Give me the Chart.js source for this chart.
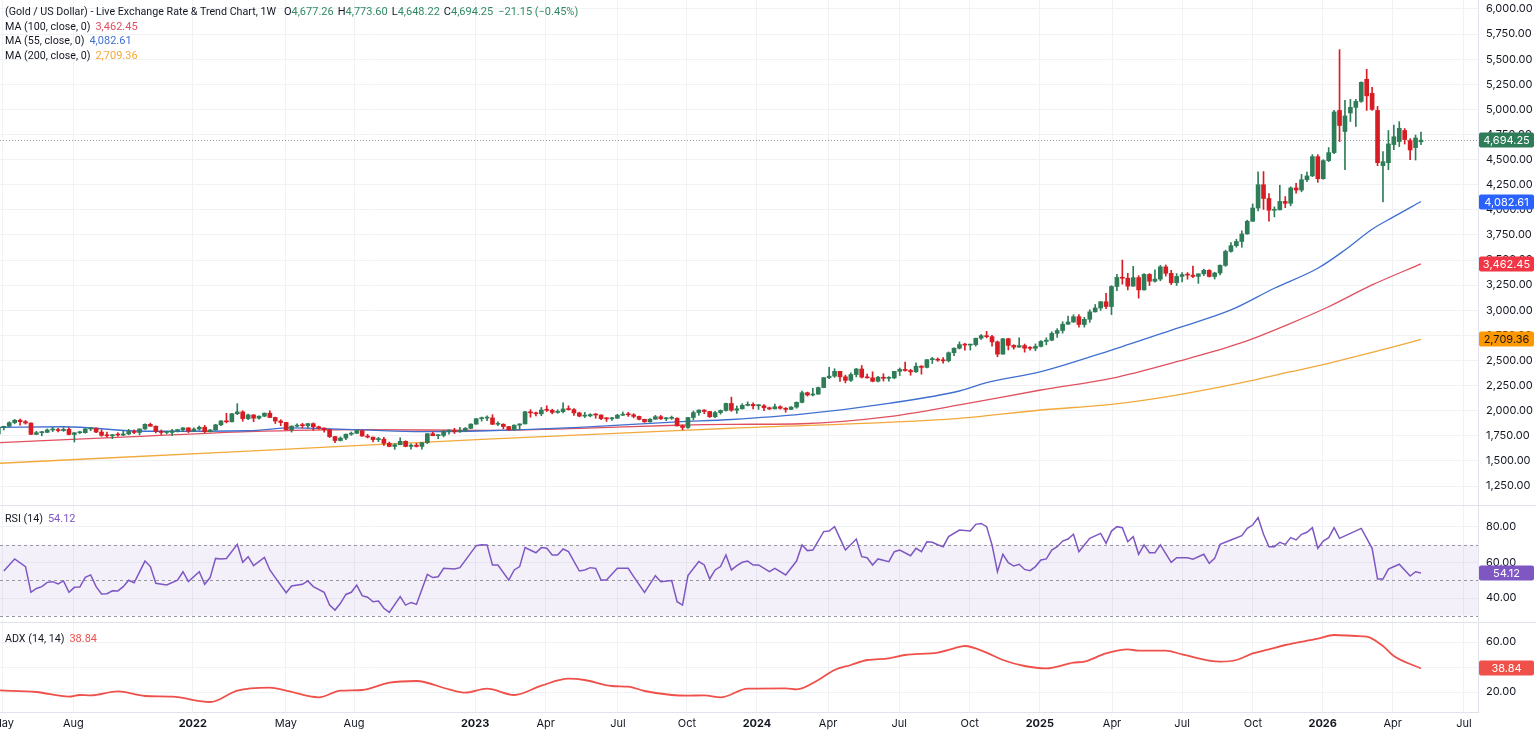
<!DOCTYPE html>
<html>
<head>
<meta charset="utf-8">
<script src="https://cdn.jsdelivr.net/npm/chart.js@4.4.1/dist/chart.umd.min.js"></script>
<style>
  body { margin: 0; background: #fff; font-family: Inter, "Noto Sans", sans-serif; }
  #wrap { position: relative; width: 1536px; height: 735px; overflow: hidden; background: #fff; }
  canvas { position: absolute; left: 0; }
  .sep { position: absolute; left: 0; width: 1536px; height: 1px; background: #e0e3eb; }
  .leg { position: absolute; left: 5px; font-family: Roboto, "Noto Sans", sans-serif; font-size: 10.7px; line-height: 14.5px; color: #131722; white-space: pre; }
  .leg .v { margin-left: 5px; font-size: 11px; }
  .leg .o { margin-left: 4px; font-size: 11px; }
</style>
</head>
<body>
<div id="wrap">
  <canvas id="price" width="1536" height="505" style="top:0"></canvas>
  <div class="sep" style="top:505px"></div>
  <canvas id="rsi" width="1536" height="116" style="top:506px"></canvas>
  <div class="sep" style="top:622px"></div>
  <canvas id="adx" width="1536" height="112" style="top:623px"></canvas>
  <div class="leg" id="legPrice" style="top:5px"></div>
  <div class="leg" id="legRsi" style="top:512px"></div>
  <div class="leg" id="legAdx" style="top:632px"></div>
</div>
<script>
// ===== DATA (weekly candles, week 0 = 3 May 2021) =====
const opens = [
  1768,1831,1844,1881,1905,1891,1877,1764,1781,1784,
  1808,1812,1802,1814,1763,1780,1781,1818,1827,1787,
  1754,1750,1761,1757,1768,1793,1783,1818,1864,1845,
  1792,1783,1783,1798,1811,1829,1797,1817,1835,1791,
  1808,1859,1898,1889,1970,1988,1921,1958,1925,1945,
  1975,1932,1897,1883,1811,1846,1853,1851,1871,1840,
  1827,1811,1742,1703,1727,1766,1775,1802,1747,1737,
  1712,1716,1675,1644,1661,1695,1644,1657,1644,1681,
  1771,1751,1754,1797,1797,1793,1798,1824,1866,1920,
  1926,1928,1865,1865,1842,1811,1856,1868,1989,1978,
  1969,2007,2004,1983,1990,2017,2011,1978,1946,1948,
  1961,1957,1921,1919,1925,1955,1962,1959,1943,1914,
  1889,1915,1940,1919,1924,1925,1849,1833,1932,1981,
  2006,1992,1940,1981,2002,2072,2005,2019,2053,2063,
  2049,2049,2029,2018,2039,2024,2013,2036,2083,2179,
  2156,2165,2230,2329,2344,2392,2337,2302,2360,2415,
  2334,2327,2293,2333,2322,2326,2392,2411,2400,2387,
  2443,2431,2508,2512,2503,2497,2577,2622,2658,2653,
  2657,2721,2747,2737,2685,2563,2716,2650,2633,2648,
  2622,2621,2640,2690,2702,2770,2798,2861,2883,2936,
  2858,2910,2984,3023,3085,3037,3237,3327,3319,3240,
  3325,3203,3357,3289,3310,3432,3368,3274,3337,3355,
  3350,3337,3363,3398,3336,3371,3447,3586,3643,3685,
  3760,3886,4018,4250,4113,3996,4000,4084,4065,4218,
  4197,4300,4338,4530,4310,4490,4570,4990,4780,4965,
  5020,5080,5300,5160,4990,4440,4470,4650,4680,4790,
  4690,4620,4677.26
];
const highs = [
  1845,1846,1890,1913,1916,1903,1878,1795,1795,1818,
  1834,1825,1832,1832,1783,1795,1823,1834,1827,1809,
  1788,1764,1781,1800,1814,1810,1818,1868,1877,1848,
  1808,1793,1815,1815,1831,1830,1830,1848,1854,1813,
  1865,1902,1974,1974,2070,1999,1966,1960,1948,1978,
  1998,1936,1910,1885,1849,1870,1874,1875,1879,1847,
  1830,1814,1745,1739,1767,1788,1808,1802,1765,1738,
  1735,1735,1688,1672,1730,1700,1670,1675,1683,1772,
  1787,1760,1805,1810,1825,1833,1833,1870,1922,1937,
  1949,1960,1890,1870,1845,1859,1870,1993,2010,1985,
  2032,2049,2015,2009,2079,2048,2022,1985,1983,1970,
  1972,1959,1930,1935,1964,1987,1983,1970,1947,1915,
  1922,1953,1953,1933,1947,1928,1857,1933,1997,2009,
  2010,1993,1993,2008,2075,2135,2047,2070,2088,2078,
  2062,2062,2036,2065,2049,2031,2041,2088,2195,2185,
  2223,2236,2330,2431,2418,2392,2354,2378,2422,2450,
  2364,2387,2342,2368,2339,2392,2425,2484,2412,2477,
  2448,2509,2531,2525,2529,2585,2625,2685,2670,2662,
  2723,2759,2790,2750,2694,2721,2721,2657,2726,2664,
  2639,2665,2697,2726,2786,2817,2886,2942,2955,2956,
  2930,3005,3057,3087,3168,3245,3358,3500,3368,3438,
  3345,3366,3365,3403,3447,3451,3398,3365,3375,3375,
  3439,3363,3409,3404,3379,3453,3599,3674,3707,3791,
  3897,4059,4379,4381,4161,4030,4245,4132,4230,4264,
  4353,4375,4550,4550,4500,4620,4990,5595,5090,5100,
  5100,5275,5400,5220,5030,4580,4790,4845,4878,4810,
  4710,4745,4773.60
];
const lows = [
  1766,1808,1843,1870,1855,1866,1761,1761,1750,1782,
  1792,1789,1794,1759,1688,1772,1776,1801,1782,1745,
  1737,1721,1746,1750,1760,1770,1759,1814,1845,1778,
  1762,1770,1753,1787,1790,1782,1791,1805,1780,1788,
  1807,1850,1878,1889,1960,1895,1910,1890,1915,1941,
  1930,1872,1851,1808,1787,1838,1828,1825,1805,1816,
  1785,1732,1681,1698,1711,1754,1771,1745,1728,1688,
  1691,1654,1640,1615,1660,1640,1618,1638,1617,1672,
  1750,1721,1739,1765,1773,1784,1795,1824,1865,1896,
  1900,1861,1852,1819,1805,1804,1809,1867,1935,1949,
  1950,1992,1969,1974,1978,2005,1952,1939,1932,1939,
  1925,1910,1893,1902,1922,1951,1943,1929,1908,1884,
  1885,1914,1913,1901,1913,1846,1810,1823,1909,1954,
  1970,1932,1931,1965,1995,1993,1973,2016,2047,2017,
  2013,2001,2010,2017,2015,1984,2010,2024,2078,2146,
  2146,2163,2228,2319,2331,2291,2277,2291,2336,2325,
  2323,2287,2287,2295,2293,2319,2350,2393,2353,2381,
  2364,2426,2470,2491,2472,2485,2547,2614,2603,2604,
  2643,2709,2725,2643,2537,2563,2605,2613,2630,2583,
  2602,2597,2636,2656,2696,2730,2772,2860,2880,2832,
  2832,2880,2982,2999,3015,2957,3194,3260,3202,3239,
  3121,3200,3246,3280,3294,3340,3255,3247,3282,3309,
  3325,3268,3345,3331,3311,3351,3437,3578,3628,3627,
  3758,3885,3990,4004,3886,3930,3998,4022,4040,4167,
  4180,4280,4330,4274,4305,4480,4560,4680,4400,4880,
  4830,5070,4990,4990,4440,4080,4400,4600,4630,4655,
  4500,4496,4648.22
];
const closes = [
  1831,1844,1881,1905,1891,1877,1764,1781,1784,1808,
  1812,1802,1814,1763,1780,1781,1818,1827,1787,1754,
  1750,1761,1757,1768,1793,1783,1818,1864,1845,1792,
  1783,1783,1798,1811,1829,1797,1817,1835,1791,1808,
  1859,1898,1889,1970,1988,1921,1958,1925,1945,1975,
  1932,1897,1883,1811,1846,1853,1851,1871,1840,1827,
  1811,1742,1703,1727,1766,1775,1802,1747,1737,1712,
  1716,1675,1644,1661,1695,1644,1657,1644,1681,1771,
  1751,1754,1797,1797,1793,1798,1824,1866,1920,1926,
  1928,1865,1865,1842,1811,1856,1868,1989,1978,1969,
  2007,2004,1983,1990,2017,2011,1978,1946,1948,1961,
  1957,1921,1919,1925,1955,1962,1959,1943,1914,1889,
  1915,1940,1919,1924,1925,1849,1833,1932,1981,2006,
  1992,1940,1981,2002,2072,2005,2019,2053,2063,2049,
  2049,2029,2018,2039,2024,2013,2036,2083,2179,2156,
  2165,2230,2329,2344,2392,2337,2302,2360,2415,2334,
  2327,2293,2333,2322,2326,2392,2411,2400,2387,2443,
  2431,2508,2512,2503,2497,2577,2622,2658,2653,2657,
  2721,2747,2737,2685,2563,2716,2650,2633,2648,2622,
  2621,2640,2690,2702,2770,2798,2861,2883,2936,2858,
  2910,2984,3023,3085,3037,3237,3327,3319,3240,3325,
  3203,3357,3289,3310,3432,3368,3274,3337,3355,3350,
  3337,3363,3398,3336,3371,3447,3586,3643,3685,3760,
  3886,4018,4250,4113,3996,4000,4084,4065,4218,4197,
  4300,4338,4530,4310,4490,4570,4975,4840,4935,5020,
  5080,5270,5135,5000,4470,4480,4656,4728,4812,4700,
  4596,4715.40,4694.25
];

// moving averages at sample weeks
const ma55Weeks  = [0,12,27,46,54,67,78,90,107,125,135,148,164,177,182,192,205,217,227,235,243,248,253,257,262];
const ma55Values = [1834,1840,1795,1800,1828,1808,1791,1800,1834,1888,1912,1965,2073,2196,2279,2388,2604,2820,3003,3219,3418,3600,3806,3932,4082.61];
const ma100Weeks  = [0,25,46,67,90,107,125,135,148,164,177,192,205,217,229,238,245,253,262];
const ma100Values = [1681,1741,1791,1812,1803,1824,1855,1864,1870,1940,2057,2206,2322,2488,2677,2870,3035,3252,3462.45];
const ma200Weeks  = [0,46,90,135,177,192,205,217,229,238,245,253,262];
const ma200Values = [1476,1598,1716,1825,1924,2007,2063,2156,2279,2388,2472,2581,2709.36];

// RSI (14) turning points
const rsiWeeks = [1,3,5,6,7,8,9,10,11,12,13,14,15,16,17,18,19,20,21,22,23,24,25,27,28,29,31,33,34,35,37,38,39,40,41,42,44,45,46,47,49,50,51,53,54,56,57,58,60,61,62,63,64,65,66,67,68,69,70,71,72,74,75,76,77,79,80,81,82,84,85,88,89,90,91,92,94,95,96,97,99,100,101,102,103,104,105,107,108,109,110,111,112,114,116,117,119,121,122,124,125,126,127,129,130,131,132,133,134,135,136,137,138,139,140,142,143,145,147,148,149,150,152,153,154,155,156,158,159,160,161,162,164,165,166,168,169,170,171,172,173,174,175,177,179,180,181,182,183,184,185,186,187,188,189,190,191,192,193,194,195,196,197,198,199,200,201,203,204,205,206,207,208,209,210,211,212,213,214,216,217,219,220,222,223,224,225,227,229,230,231,232,233,234,235,236,237,238,239,240,241,242,243,244,245,246,247,249,251,253,254,255,256,258,260,261,262];
const rsiValues = [55.2,62,57.7,43.2,45.4,46.4,48.8,49.2,47.9,49.6,43.2,46,46.2,51.6,53,46.4,42.3,42.4,44.1,44,46.4,50,48.6,60.8,57.7,48.3,47.3,50.1,54.8,49.2,54.8,47.7,51.5,62.3,62,62.3,70.2,60.1,63.3,58.2,62.9,55.8,51.5,43,46.8,47.7,49.6,46.4,43.2,36,33.2,37,42,43.2,47.3,41.3,40.4,37.9,38.3,34.2,31.9,40.8,36,37.5,36.4,53.3,51.5,52,56.7,56.3,57.1,69.5,70,69.9,58.6,58.6,50.1,55.8,57.7,68.4,65.5,68.4,68,64.2,64.2,67.6,66.1,55.2,55.8,57.1,56.7,50.1,50.1,56.7,56.7,52,43.2,52.6,49.2,49.8,37.9,36,52.6,60.5,58.6,50.7,55.8,57.7,64.2,55.8,58.2,60.1,60.8,58.6,58.6,54.8,56.7,53,60.8,69.9,66.7,67,77.4,77.7,80.2,73.6,67,73.2,63.3,62.7,58.6,62,60.5,66.1,67,63.8,68,66.1,71.7,71.4,70,68.9,74.6,78.3,77.7,81.5,82,80.2,69.9,54.8,64.6,59.9,58,59,56.1,55.4,57.7,61.4,62,67,68.9,72.1,73.2,75.9,66.1,69.9,73.6,76.4,70.8,77.7,80.2,79.6,71.7,74.6,64.6,69.9,65.5,65.5,69.9,60.1,62.7,62.7,61.8,64.6,59.5,62.3,70.2,72.7,75.1,79.2,81.1,85.3,75.9,68.9,68.9,71.4,70.2,74,72.7,75.9,77,79.6,68,72.1,74,79.6,73.6,76.4,79.2,68,50.7,50.7,56.3,59,52.4,54.8,54.12];

// ADX (14, 14) sample points
const adxWeeks  = [0,7,13,15,17,22,27,32,39,40,44,50,53,59,63,67,72,77,83,86,90,95,100,105,108,113,116,119,124,127,130,133,138,145,147,151,154,157,160,164,167,173,176,178,182,185,189,193,198,200,204,208,210,215,218,225,228,231,234,237,243,246,250,252,255,257,262];
const adxValues = [21.3,20,16.3,17.6,17.3,20.5,16.8,16.3,12,12.8,21.1,23.5,21.1,15.7,21.1,21.6,27.5,28.8,22.1,19.5,22.7,17.6,25.1,30.7,29.6,24.8,24.3,20.8,17.6,17.1,17.3,15.7,22.7,22.9,22.1,29.6,37.6,41.6,45.6,46.9,49.6,51.5,54.9,56.8,51.5,45.6,40.8,38.9,43.5,44.3,50.9,54.1,53.1,53.1,50.1,44.3,45.6,50.9,54.1,57.6,62.7,65.6,64.8,64.3,56.8,48.8,38.84];

// time axis
const tickWeeks = [0.85,13.8,35.8,52.96,65.5,87.8,100.8,114.1,126.8,139.7,152.8,165.9,178.9,191.8,205.1,218,231.05,243.9,256.8,269.9];
const tickText  = ['May','Aug','2022','May','Aug','2023','Apr','Jul','Oct','2024','Apr','Jul','Oct','2025','Apr','Jul','Oct','2026','Apr','Jul'];
const priceTicks = [1250,1500,1750,2000,2250,2500,2750,3000,3250,3500,3750,4000,4250,4500,4750,5000,5250,5500,5750,6000];
const rsiTicks = [40, 60, 80];
const adxTicks = [20, 40, 60];

// ===== STYLE =====
const GREEN = '#2e7d58', RED = '#d81c24';
const C_MA55 = '#3f6fd0', C_MA100 = '#e0505f', C_MA200 = '#f2a93b';
const C_RSI = '#7e57c2', C_ADX = '#f0504a';
const GRID = '#f0f2f6', TEXT = '#131722';
const FONT = 'Inter, "Noto Sans", sans-serif';

const weeks = closes.map((_, i) => i);
const last = closes.length - 1;
const fmt2 = v => Number(v).toLocaleString('en-US', { minimumFractionDigits: 2, maximumFractionDigits: 2 });
const candleColor = i => closes[i] >= opens[i] ? GREEN : RED;
const pts = (xs, ys) => xs.map((x, k) => ({ x: x, y: ys[k] }));

function xAxis(showLabels) {
    return {
        type: 'linear', min: 0.3, max: 272.5, offset: false,
        afterBuildTicks: ax => { ax.ticks = tickWeeks.map(v => ({ value: v })); },
        afterFit: ax => {
            ax.height = showLabels ? 23 : 0;
            ax.paddingLeft = 0; ax.paddingRight = 0;
        },
        grid: { color: GRID, drawTicks: false, offset: false },
        border: { display: showLabels, color: '#e0e3eb' },
        ticks: {
            display: showLabels, autoSkip: false, maxRotation: 0, padding: 5, color: TEXT,
            font: ctx => ({ family: FONT, size: 11, weight: /^\d{4}$/.test(tickText[ctx.index]) ? 'bold' : 'normal' }),
            callback: (v, i) => tickText[i]
        }
    };
}

function yAxis(min, max, list, fmt) {
    return {
        position: 'right', min: min, max: max,
        afterBuildTicks: ax => { ax.ticks = list.map(v => ({ value: v })); },
        afterFit: ax => {
            ax.width = 58;
            ax.paddingTop = 0; ax.paddingBottom = 0;
        },
        grid: { color: GRID, drawTicks: false },
        border: { display: true, color: '#e0e3eb' },
        ticks: { padding: 8, color: TEXT, font: { family: FONT, size: 11 }, callback: fmt }
    };
}

// value tags on the right axis
function tags(items) {
    return {
        id: 'tags',
        afterDraw(chart) {
            const { ctx } = chart;
            const y = chart.scales.y;
            items.forEach(t => {
                const py = Math.round(y.getPixelForValue(t.v));
                ctx.save();
                ctx.fillStyle = t.bg;
                ctx.beginPath();
                ctx.roundRect(1479, py - 7.5, 55, 15, 2);
                ctx.fill();
                ctx.fillStyle = t.fg || '#fff';
                ctx.font = '11px ' + FONT;
                ctx.textAlign = 'center';
                ctx.textBaseline = 'middle';
                ctx.fillText(fmt2(t.v), 1506.5, py + 0.5);
                ctx.restore();
            });
        }
    };
}

// horizontal reference lines / band
function hLines(cfg) {
    return {
        id: 'hlines',
        beforeDatasetsDraw(chart) {
            const { ctx, chartArea: a } = chart;
            const y = chart.scales.y;
            ctx.save();
            if (cfg.band) {
                const t = y.getPixelForValue(cfg.band[0]), b = y.getPixelForValue(cfg.band[1]);
                ctx.fillStyle = cfg.bandColor;
                ctx.fillRect(a.left, t, a.right - a.left, b - t);
            }
            ctx.strokeStyle = cfg.color;
            ctx.lineWidth = 1;
            ctx.setLineDash(cfg.dash);
            cfg.lines.forEach(v => {
                const py = Math.round(y.getPixelForValue(v)) + 0.5;
                ctx.beginPath();
                ctx.moveTo(a.left, py);
                ctx.lineTo(cfg.right || a.right, py);
                ctx.stroke();
            });
            ctx.restore();
        }
    };
}

const baseOptions = {
    responsive: false, animation: false, events: [],
    layout: { padding: 0, autoPadding: false },
    plugins: { legend: { display: false }, tooltip: { enabled: false } }
};

// ===== PRICE =====
new Chart(document.getElementById('price'), {
    type: 'bar',
    data: {
        datasets: [
            { type: 'line', data: pts(ma200Weeks, ma200Values), borderColor: C_MA200, borderWidth: 1.3, pointRadius: 0, cubicInterpolationMode: 'monotone', order: 5 },
            { type: 'line', data: pts(ma100Weeks, ma100Values), borderColor: C_MA100, borderWidth: 1.3, pointRadius: 0, cubicInterpolationMode: 'monotone', order: 4 },
            { type: 'line', data: pts(ma55Weeks, ma55Values), borderColor: C_MA55, borderWidth: 1.3, pointRadius: 0, cubicInterpolationMode: 'monotone', order: 3 },
            { data: weeks.map(i => ({ x: i, y: [lows[i], highs[i]] })), backgroundColor: c => candleColor(c.dataIndex), barThickness: 1, grouped: false, order: 1 },
            { data: weeks.map(i => ({ x: i, y: [opens[i], closes[i]] })), backgroundColor: c => candleColor(c.dataIndex), barThickness: 4, grouped: false, minBarLength: 1, order: 0 }
        ]
    },
    options: Object.assign({}, baseOptions, {
        scales: { x: xAxis(false), y: yAxis(1060.8, 6089.6, priceTicks, v => fmt2(v)) }
    }),
    plugins: [
        hLines({ lines: [closes[last]], color: '#9598a1', dash: [1, 2], right: 1479 }),
        tags([
            { v: closes[last], bg: GREEN },
            { v: ma55Values[ma55Values.length - 1], bg: '#2962ff' },
            { v: ma100Values[ma100Values.length - 1], bg: '#f23645' },
            { v: ma200Values[ma200Values.length - 1], bg: '#ff9800', fg: TEXT }
        ])
    ]
});

// ===== RSI =====
new Chart(document.getElementById('rsi'), {
    type: 'line',
    data: { datasets: [{ data: pts(rsiWeeks, rsiValues), borderColor: C_RSI, borderWidth: 1.5, pointRadius: 0, tension: 0 }] },
    options: Object.assign({}, baseOptions, {
        scales: { x: xAxis(false), y: yAxis(26.48, 91.83, rsiTicks, v => v.toFixed(2)) }
    }),
    plugins: [
        hLines({ lines: [70, 50, 30], color: '#9598a1', dash: [3, 3], band: [70, 30], bandColor: 'rgba(126,87,194,0.09)' }),
        tags([{ v: rsiValues[rsiValues.length - 1], bg: C_RSI }])
    ]
});

// ===== ADX =====
new Chart(document.getElementById('adx'), {
    type: 'line',
    data: { datasets: [{ data: pts(adxWeeks, adxValues), borderColor: C_ADX, borderWidth: 1.8, pointRadius: 0, cubicInterpolationMode: 'monotone' }] },
    options: Object.assign({}, baseOptions, {
        scales: { x: xAxis(true), y: yAxis(4, 75.2, adxTicks, v => v.toFixed(2)) }
    }),
    plugins: [tags([{ v: adxValues[adxValues.length - 1], bg: C_ADX }])]
});

// ===== LEGENDS =====
const chg = closes[last] - closes[last - 1];
const pct = chg / closes[last - 1] * 100;
const sign = v => (v < 0 ? '\u2212' : '+') + fmt2(Math.abs(v));
const cc = candleColor(last) === GREEN ? '#308a62' : RED;
const span = (t, c, cls) => '<span class="' + (cls || '') + '" style="color:' + c + '">' + t + '</span>';
const item = (k, v) => '<span class="o">' + k + span(fmt2(v), cc) + '</span>';
document.getElementById('legPrice').innerHTML =
    '(Gold / US Dollar) - Live Exchange Rate &amp; Trend Chart, 1W<span style="margin-left:4px"></span>' +
    item('O', opens[last]) + item('H', highs[last]) + item('L', lows[last]) + item('C', closes[last]) +
    span(sign(chg) + ' (' + sign(pct) + '%)', cc, 'v') + '\n' +
    'MA (100, close, 0)' + span(fmt2(ma100Values[ma100Values.length - 1]), C_MA100, 'v') + '\n' +
    'MA (55, close, 0)' + span(fmt2(ma55Values[ma55Values.length - 1]), C_MA55, 'v') + '\n' +
    'MA (200, close, 0)' + span(fmt2(ma200Values[ma200Values.length - 1]), C_MA200, 'v');
document.getElementById('legRsi').innerHTML = 'RSI (14)' + span(fmt2(rsiValues[rsiValues.length - 1]), C_RSI, 'v');
document.getElementById('legAdx').innerHTML = 'ADX (14, 14)' + span(fmt2(adxValues[adxValues.length - 1]), C_ADX, 'v');
</script>
</body>
</html>
